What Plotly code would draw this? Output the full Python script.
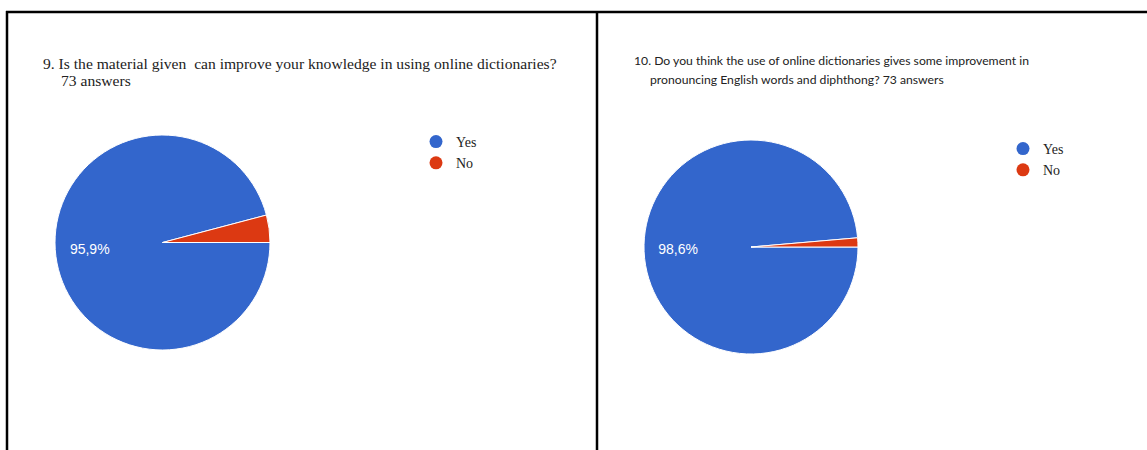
import plotly.graph_objects as go

# ---- data ----
labels = ["Yes", "No"]
q9_counts = [70, 3]      # 73 answers -> 95,9% / 4,1%
q10_counts = [72, 1]     # 73 answers -> 98,6% / 1,4%
colors = ["#3366cc", "#dc3912"]
q9_title = "9. Is the material given  can improve your knowledge in using online dictionaries?"
q9_sub = "73 answers"
q10_title = "10. Do you think the use of online dictionaries gives some improvement in"
q10_sub = "pronouncing English words and diphthong? 73 answers"

W, H = 1147, 450
def px(x):
    return x / W
def py(y):
    return 1 - y / H

fig = go.Figure()

pad = "\u00a0" * 10  # pushes the visible label a little outward (toward the left edge)
pie_common = dict(
    labels=labels,
    sort=False,
    direction="clockwise",
    rotation=90,
    marker=dict(colors=colors, line=dict(color="white", width=1)),
    texttemplate=["%{percent:.1%}" + pad, ""],
    textposition="inside",
    insidetextorientation="horizontal",
    insidetextfont=dict(family="Liberation Sans, Arial, sans-serif", size=14, color="white"),
    showlegend=False,
    hoverinfo="label+percent",
)

fig.add_trace(go.Pie(values=q9_counts,
                     domain=dict(x=[px(55), px(270)], y=[py(350), py(135)]),
                     **pie_common))
fig.add_trace(go.Pie(values=q10_counts,
                     domain=dict(x=[px(644), px(858)], y=[py(354), py(140)]),
                     **pie_common))

# legend entries (circle markers) for both panels
for lg in ["legend", "legend2"]:
    for lab, col in zip(labels, colors):
        fig.add_trace(go.Scatter(x=[None], y=[None], mode="markers", name=lab,
                                 marker=dict(symbol="circle", size=13, color=col),
                                 legend=lg, showlegend=True, hoverinfo="skip"))

legend_font = dict(family="Liberation Serif, Times New Roman, serif", size=14, color="#222222")

fig.update_layout(
    width=W, height=H,
    margin=dict(l=0, r=0, t=0, b=0),
    paper_bgcolor="white", plot_bgcolor="white",
    separators=",.",
    xaxis=dict(visible=False, range=[0, 1]),
    yaxis=dict(visible=False, range=[0, 1]),
    legend=dict(x=px(416), y=py(126), xanchor="left", yanchor="top",
                font=legend_font, bgcolor="rgba(0,0,0,0)", tracegroupgap=0),
    legend2=dict(x=px(1003), y=py(133), xanchor="left", yanchor="top",
                 font=legend_font, bgcolor="rgba(0,0,0,0)", tracegroupgap=0),
    shapes=[
        dict(type="line", xref="paper", yref="paper", x0=px(6), x1=px(1147), y0=py(12), y1=py(12),
             line=dict(color="black", width=2.5)),
        dict(type="line", xref="paper", yref="paper", x0=px(7), x1=px(7), y0=py(11), y1=py(450),
             line=dict(color="black", width=2.5)),
        dict(type="line", xref="paper", yref="paper", x0=px(597), x1=px(597), y0=py(11), y1=py(450),
             line=dict(color="black", width=2.5)),
    ],
)

serif = dict(family="Liberation Serif, Times New Roman, serif", size=15.6, color="#222222")
sans = dict(family="Lato, Calibri, sans-serif", size=12.2, color="#222222")

annots = [
    (q9_title, 41, 63, serif),
    (q9_sub, 59, 81, serif),
    (q10_title, 632, 61, sans),
    (q10_sub, 648, 79, sans),
]
for txt, x, y, f in annots:
    fig.add_annotation(text=txt, xref="paper", yref="paper", x=px(x), y=py(y),
                       xanchor="left", yanchor="middle", showarrow=False, font=f)

fig.write_html("out.html", config={"displayModeBar": False},
               post_script="document.body.style.margin='0px';document.body.style.overflow='hidden';")
